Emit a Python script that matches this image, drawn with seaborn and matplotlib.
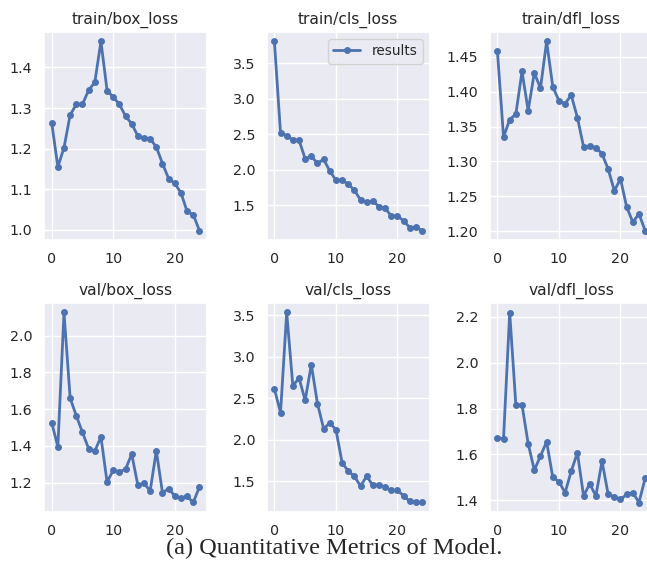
import numpy as np
import pandas as pd
import matplotlib
matplotlib.use("Agg")
import matplotlib.pyplot as plt
import seaborn as sns

epochs = list(range(25))

train_box_loss = [1.264, 1.155, 1.202, 1.283, 1.309, 1.309, 1.344, 1.363, 1.464, 1.343,
                  1.327, 1.309, 1.280, 1.261, 1.231, 1.226, 1.224, 1.204, 1.163, 1.126,
                  1.114, 1.091, 1.045, 1.037, 0.998]
train_cls_loss = [3.808, 2.514, 2.481, 2.416, 2.416, 2.154, 2.187, 2.089, 2.145, 1.981,
                  1.850, 1.850, 1.794, 1.710, 1.570, 1.537, 1.556, 1.477, 1.453, 1.346,
                  1.346, 1.276, 1.182, 1.187, 1.140]
train_dfl_loss = [1.4585, 1.335, 1.360, 1.368, 1.429, 1.373, 1.427, 1.405, 1.472, 1.407,
                  1.387, 1.383, 1.395, 1.363, 1.321, 1.322, 1.320, 1.311, 1.289, 1.258,
                  1.275, 1.235, 1.213, 1.225, 1.201]
val_box_loss = [1.527, 1.395, 2.127, 1.660, 1.564, 1.473, 1.385, 1.371, 1.449, 1.202,
                1.267, 1.258, 1.273, 1.355, 1.185, 1.195, 1.155, 1.373, 1.144, 1.167,
                1.127, 1.116, 1.125, 1.091, 1.176]
val_cls_loss = [2.611, 2.325, 3.532, 2.647, 2.743, 2.474, 2.904, 2.434, 2.132, 2.200,
                2.120, 1.721, 1.621, 1.556, 1.440, 1.560, 1.448, 1.456, 1.424, 1.387,
                1.387, 1.323, 1.255, 1.242, 1.242]
val_dfl_loss = [1.672, 1.669, 2.219, 1.816, 1.816, 1.647, 1.531, 1.593, 1.655, 1.500,
                1.481, 1.433, 1.527, 1.607, 1.419, 1.471, 1.419, 1.570, 1.425, 1.415,
                1.404, 1.425, 1.433, 1.390, 1.495]

titles = ["train/box_loss", "train/cls_loss", "train/dfl_loss",
          "val/box_loss", "val/cls_loss", "val/dfl_loss"]
series = [train_box_loss, train_cls_loss, train_dfl_loss,
          val_box_loss, val_cls_loss, val_dfl_loss]
caption = "(a) Quantitative Metrics of Model."
legend_label = "results"

sns.set_theme(style="darkgrid")
plt.rcParams["font.family"] = ["DejaVu Sans"]

W, H = 647, 569
fig = plt.figure(figsize=(W / 100, H / 100), dpi=100)

lefts = [44.3, 267.0, 490.0]
width = 162.5
rows = [(32.0, 240.0), (303.0, 512.0)]

color = "#4C72B0"
for i, (title, vals) in enumerate(zip(titles, series)):
    r, c = divmod(i, 3)
    top, bot = rows[r]
    ax = fig.add_axes([lefts[c] / W, 1 - bot / H, width / W, (bot - top) / H])
    df = pd.DataFrame({"epoch": epochs, "value": vals})
    sns.lineplot(data=df, x="epoch", y="value", ax=ax, marker="o", color=color,
                 linewidth=2.0, markersize=5, markeredgewidth=0,
                 label=legend_label if i == 1 else None)
    ax.set_title(title, fontsize=11.2)
    ax.set_xlabel("")
    ax.set_ylabel("")
    ax.set_xticks([0, 10, 20])
    ax.tick_params(axis="both", labelsize=10.3, pad=8.5, length=0)
    if i == 1:
        ax.legend(loc="upper right", fontsize=9.8)
    else:
        leg = ax.get_legend()
        if leg is not None:
            leg.remove()

fig.text(334 / W, 1 - 548 / H, caption, ha="center", va="center",
         family="Liberation Serif", fontsize=17.5)

fig.savefig("out.png", dpi=100)
